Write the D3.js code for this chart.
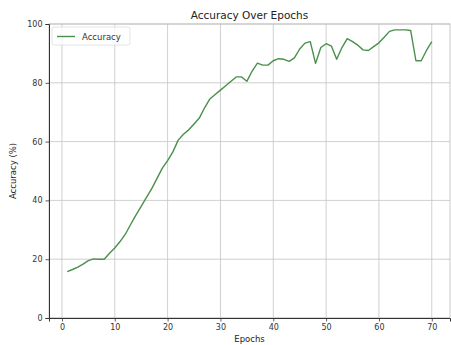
<!DOCTYPE html>
<html>
<head>
<meta charset="utf-8">
<script src="https://cdn.jsdelivr.net/npm/d3@7"></script>
<style>
  html, body { margin: 0; padding: 0; background: #fff; }
  svg { display: block; font-family: "DejaVu Sans", sans-serif; }
</style>
</head>
<body>
<svg id="chart" width="451" height="345"></svg>
<script>
// Training accuracy per epoch
const epochs = d3.range(1, 71);
const accuracy = [
  15.8, 16.5, 17.3, 18.3, 19.5, 20.1, 20.0, 20.0, 22.0, 23.8,
  26.0, 28.5, 31.8, 35.0, 38.0, 41.0, 44.0, 47.5, 51.0, 53.5,
  56.5, 60.5, 62.5, 64.0, 66.0, 68.0, 71.5, 74.5, 76.0, 77.5,
  79.0, 80.5, 82.0, 82.0, 80.5, 84.0, 86.7, 86.0, 86.0, 87.5,
  88.2, 88.0, 87.3, 88.5, 91.5, 93.5, 94.0, 86.6, 92.0, 93.3,
  92.5, 88.0, 92.0, 95.0, 94.0, 92.8, 91.2, 91.0, 92.3, 93.6,
  95.5, 97.5, 98.0, 98.0, 98.0, 97.8, 87.5, 87.5, 91.0, 94.0
];
const xTicks = [0, 10, 20, 30, 40, 50, 60, 70];
const yTicks = [0, 20, 40, 60, 80, 100];
const titleText = "Accuracy Over Epochs";
const xLabel = "Epochs";
const yLabel = "Accuracy (%)";
const seriesName = "Accuracy";

const svg = d3.select("#chart");
const plot = { left: 49, right: 450, top: 24, bottom: 318 };
const lineColor = "#4a8f4a";

const x = d3.scaleLinear().domain([-2.45, 73.45]).range([plot.left, plot.right]);
const y = d3.scaleLinear().domain([0, 100]).range([plot.bottom, plot.top]);

// grid
const grid = svg.append("g");
grid.selectAll("line.vx").data(xTicks).enter().append("line")
  .attr("x1", d => x(d)).attr("x2", d => x(d))
  .attr("y1", plot.top).attr("y2", plot.bottom)
  .attr("stroke", "#c4c4c4").attr("stroke-width", 0.8);
grid.selectAll("line.hy").data(yTicks).enter().append("line")
  .attr("x1", plot.left).attr("x2", plot.right)
  .attr("y1", d => y(d)).attr("y2", d => y(d))
  .attr("stroke", "#c4c4c4").attr("stroke-width", 0.8);

// frame
svg.append("rect")
  .attr("x", plot.left).attr("y", plot.top)
  .attr("width", plot.right - plot.left).attr("height", plot.bottom - plot.top)
  .attr("fill", "none").attr("stroke", "#bbb").attr("stroke-width", 0.8);

// axes
const xAxis = svg.append("g")
  .attr("transform", `translate(0,${plot.bottom})`)
  .call(d3.axisBottom(x).tickValues(xTicks).tickSize(3.5).tickPadding(3).tickFormat(d3.format("d")));
const yAxis = svg.append("g")
  .attr("transform", `translate(${plot.left},0)`)
  .call(d3.axisLeft(y).tickValues(yTicks).tickSize(3.5).tickPadding(3).tickFormat(d3.format("d")));
[xAxis, yAxis].forEach(a => {
  a.select(".domain").attr("stroke", "#333").attr("stroke-width", 1);
  a.selectAll(".tick line").attr("stroke", "#333").attr("stroke-width", 0.8);
  a.selectAll("text").attr("fill", "#333").style("font-size", "8px")
    .style("font-family", "'DejaVu Sans', sans-serif");
});

// line
const line = d3.line().x((d, i) => x(epochs[i])).y(d => y(d));
svg.append("path")
  .datum(accuracy)
  .attr("d", line)
  .attr("fill", "none")
  .attr("stroke", lineColor)
  .attr("stroke-width", 1.4)
  .attr("stroke-linejoin", "round");

// title and axis labels
svg.append("text")
  .attr("x", (plot.left + plot.right) / 2).attr("y", 18.5)
  .attr("text-anchor", "middle").attr("fill", "#222")
  .style("font-size", "10.5px").text(titleText);
svg.append("text")
  .attr("x", (plot.left + plot.right) / 2).attr("y", 342)
  .attr("text-anchor", "middle").attr("fill", "#222")
  .style("font-size", "8.5px").text(xLabel);
svg.append("text")
  .attr("transform", `translate(16,${(plot.top + plot.bottom) / 2}) rotate(-90)`)
  .attr("text-anchor", "middle").attr("fill", "#222")
  .style("font-size", "8.5px").text(yLabel);

// legend
const legend = svg.append("g").attr("transform", `translate(${plot.left + 3},${plot.top + 3})`);
legend.append("rect")
  .attr("width", 78).attr("height", 18).attr("rx", 2)
  .attr("fill", "#fff").attr("fill-opacity", 0.8)
  .attr("stroke", "#ddd").attr("stroke-width", 0.8);
legend.append("line")
  .attr("x1", 5).attr("x2", 23).attr("y1", 9.5).attr("y2", 9.5)
  .attr("stroke", lineColor).attr("stroke-width", 1.4);
legend.append("text")
  .attr("x", 30).attr("y", 12.5)
  .attr("fill", "#333").style("font-size", "8.5px").text(seriesName);
</script>
</body>
</html>
